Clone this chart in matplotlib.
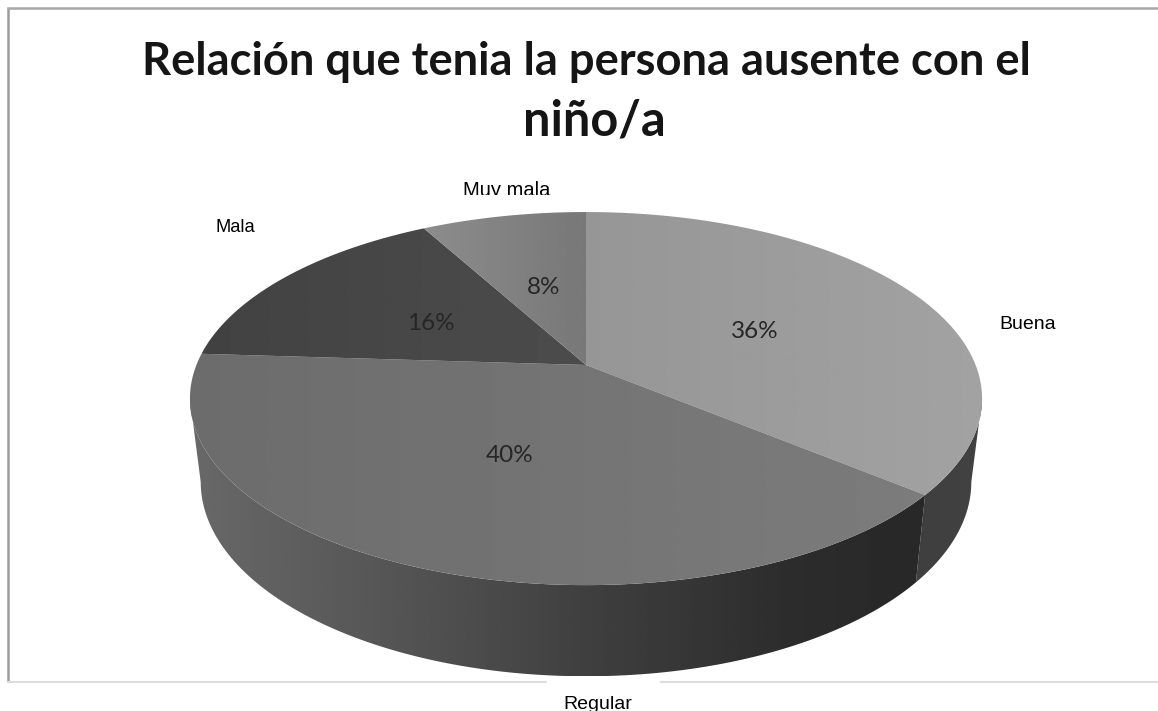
import numpy as np
import matplotlib
matplotlib.use("Agg")
import matplotlib.pyplot as plt
from matplotlib.patches import Polygon, Rectangle

# Data (clockwise from 12 o'clock)
categories = ["Buena", "Regular", "Mala", "Muy mala"]
shares = [36, 40, 16, 8]
pct_labels = ["36%", "40%", "16%", "8%"]
title_lines = ["Relación que tenia la persona ausente con el", "niño/a"]

# Grey level of each top face at its left and right end
top_greys = [(150, 162), (108, 124), (66, 76), (140, 120)]

# Pixel layout
CX = 586
K = 0.18  # perspective
TOP_A, TOP_B, TOP_Y = 389.6, 180.5, 365
LOW_A, LOW_B, LOW_Y = 379.0, 188.0, 447

pct_pos = [(755, 331), (510, 456), (431, 323), (544, 287)]
cat_pos = [(1028, 329), (598, 709), (235, 232), (507, 196)]
cat_size = [14, 14, 13.2, 14.5]

fig = plt.figure(figsize=(11.58, 7.11), dpi=100)
ax = fig.add_axes([0, 0, 1, 1])
ax.set_axis_off()


def rim(theta, a, b, y0):
    # theta in degrees clockwise from the top, circle seen in perspective
    t = np.radians(theta)
    x, y = np.sin(t), np.cos(t)
    d = 1 + K * y
    return np.column_stack([CX + a * x / d, y0 - b * y / d])


def gradient_fill(points, xs, greys, zorder):
    # horizontal grey gradient clipped to a polygon
    x0, x1 = points[:, 0].min(), points[:, 0].max()
    y0, y1 = points[:, 1].min(), points[:, 1].max()
    grid = np.linspace(x0, x1, 256)
    row = np.interp(grid, xs, greys)[None, :]
    im = ax.imshow(row, cmap="gray", vmin=0, vmax=255, aspect="auto",
                   extent=(x0, x1, y1, y0), zorder=zorder, interpolation="bilinear")
    poly = Polygon(points, closed=True, transform=ax.transData)
    im.set_clip_path(poly)


edges = np.concatenate([[0], np.cumsum(shares)]) * 3.6

# widest points of the disc as seen in perspective
side_start = np.degrees(np.arccos(-K))
side_end = 360 - side_start

# side wall, Buena part then Regular part
split = edges[1]
th = np.linspace(side_start, split, 60)
side = np.vstack([rim(th, TOP_A, TOP_B, TOP_Y), rim(th, LOW_A, LOW_B, LOW_Y)[::-1]])
gradient_fill(side, [900, 985], [62, 66], 2)

th = np.linspace(split, side_end, 200)
side = np.vstack([rim(th, TOP_A, TOP_B, TOP_Y), rim(th, LOW_A, LOW_B, LOW_Y)[::-1]])
gradient_fill(side, [195, 400, 600, 800, 925], [104, 84, 62, 44, 40], 3)

# top faces
for i in range(len(shares)):
    th = np.linspace(edges[i], edges[i + 1], 120)
    pts = np.vstack([[CX, TOP_Y], rim(th, TOP_A, TOP_B, TOP_Y)])
    xmin, xmax = pts[:, 0].min(), pts[:, 0].max()
    gradient_fill(pts, [xmin, xmax], top_greys[i], 4)

ax.set_xlim(0, 1158)
ax.set_ylim(711, 0)

# frame of the pasted chart
ax.plot([8, 8], [8, 682], color="#9c9c9c", lw=1.8, zorder=1, solid_capstyle="butt")
ax.plot([8, 1158], [8, 8], color="#a8a8a8", lw=1.8, zorder=1)
ax.plot([8, 1158], [682, 682], color="#dcdcdc", lw=1.5, zorder=1)
ax.add_patch(Rectangle((547, 679), 112, 6, color="white", zorder=1.5))

# title
ax.text(586, 75, title_lines[0], ha="center", va="baseline", family="Lato",
        weight="bold", fontsize=32.6, color="#151515", zorder=6)
ax.text(594, 136, title_lines[1], ha="center", va="baseline", family="Lato",
        weight="bold", fontsize=35, color="#151515", zorder=6)

for label, (x, y) in zip(pct_labels, pct_pos):
    ax.text(x, y, label, ha="center", va="center", family="Lato",
            fontsize=17.5, color="#262626", zorder=6)

for label, (x, y), size in zip(categories, cat_pos, cat_size):
    t = ax.text(x, y, label, ha="center", va="baseline", family="Liberation Sans",
                fontsize=size, color="black", zorder=6)
    if label == "Muy mala":
        # the label is cut off just above the pie in the source
        t.set_clip_on(True)
        t.set_clip_path(Rectangle((400, 170), 220, 25, transform=ax.transData))

fig.savefig("out.png", dpi=100, facecolor="white")
